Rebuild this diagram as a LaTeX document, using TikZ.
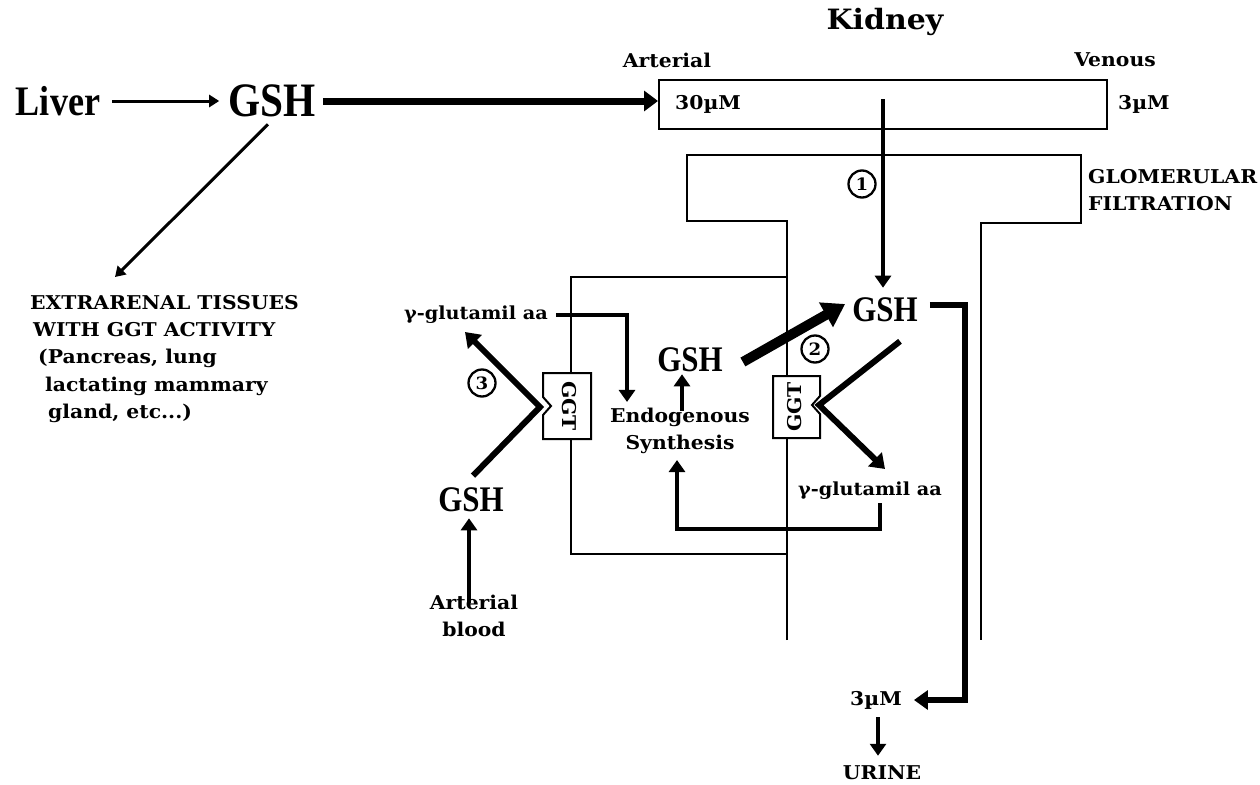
\documentclass[tikz,border=0pt]{standalone}
\usepackage{fontspec}
\setmainfont{DejaVu Serif}
\newfontfamily\gshfont{Liberation Serif}[FakeStretch=0.86]
\newfontfamily\labfont{DejaVu Serif}[FakeStretch=1.07]
\usetikzlibrary{arrows.meta}
\tikzset{
  thinline/.style={line width=2pt},
  flow/.style={line width=4pt, -{Triangle[length=12pt,width=16pt]}},
  heavyflow/.style={line width=6pt, -{Triangle[length=14pt,width=19pt]}},
  slimflow/.style={line width=3pt, -{Triangle[length=10pt,width=12pt]}},
  lab/.style={font=\labfont\bfseries\fontsize{19}{27}\selectfont, inner sep=0pt},
  smalllab/.style={font=\labfont\bfseries\fontsize{18}{20}\selectfont, inner sep=0pt},
  ggtlab/.style={font=\labfont\bfseries\fontsize{19}{20}\selectfont, inner sep=0pt},
  gsh/.style={font=\gshfont\bfseries\fontsize{36}{36}\selectfont, inner sep=0pt},
  num/.style={circle, draw, line width=2.3pt, minimum size=27pt, inner sep=0pt, font=\labfont\bfseries\fontsize{17}{17}\selectfont},
}
\begin{document}
\begin{tikzpicture}[x=1pt,y=-1pt]
\useasboundingbox[fill=white] (0,0) rectangle (1260,784);

% ---------- left part ----------
\node[gsh, font=\gshfont\bfseries\fontsize{42}{42}\selectfont] (liver) at (58,101) {Liver};
\node[gsh, font=\gshfont\bfseries\fontsize{48}{48}\selectfont] (gshtop) at (272,101) {GSH};
\draw[slimflow] ([xshift=12pt]liver.east) -- ([xshift=-9pt]gshtop.west);

\node[lab, anchor=west] (ext1) at (30,303) {EXTRARENAL TISSUES};
\node[lab, anchor=west] (ext2) at (33,330) {WITH GGT ACTIVITY};
\node[lab, anchor=west] (ext3) at (38,358) {(Pancreas, lung};
\node[lab, anchor=west] (ext4) at (45,386) {lactating mammary};
\node[lab, anchor=west] (ext5) at (48,413) {gland, etc...)};
\coordinate (extend) at (115,277);
\draw[slimflow] ([shift={(-4,7)}]gshtop.south) -- (extend);

% ---------- kidney vessel ----------
\node[lab, font=\labfont\bfseries\fontsize{28}{28}\selectfont] (kidney) at (885,22) {Kidney};
\node[lab] (art) at (667,60) {Arterial};
\node[lab] (ven) at (1115,60) {Venous};
\node[draw, thinline, minimum width=448pt, minimum height=49pt, inner sep=0pt, anchor=north west] (vessel) at (658,79) {};
\node[lab, anchor=west] (c30) at (675,104) {30µM};
\node[lab, anchor=west] (c3v) at (1118,104) {3µM};
\draw[line width=7pt, -{Triangle[length=14pt,width=20pt]}] ([xshift=7pt]gshtop.east) -- (gshtop.east -| vessel.west);

% ---------- glomerulus / tubule outline ----------
\draw[thinline] (787,640) -- (787,221) -- (687,221) -- (687,155) -- (1081,155) -- (1081,223) -- (981,223) -- (981,640);
\draw[thinline] (787,277) -- (571,277) -- (571,554) -- (787,554);
\node[lab, anchor=west, align=left] (glom) at (1088,190) {GLOMERULAR\\FILTRATION};

% GGT boxes
\draw[thinline, fill=white] (543,373) -- (591,373) -- (591,439) -- (543,439) -- (543,415) -- (551,406) -- (543,397) -- cycle;
\node[ggtlab, rotate=-90] (ggtL) at (569,406) {GGT};
\draw[thinline, fill=white] (773,376) -- (820,376) -- (820,396) -- (812,405) -- (820,414) -- (820,438) -- (773,438) -- cycle;
\node[ggtlab, rotate=90] (ggtR) at (795,407) {GGT};

% ---------- GSH nodes ----------
\node[gsh] (gshr) at (885,310) {GSH};
\node[gsh] (gshc) at (690,360) {GSH};
\node[gsh] (gshl) at (471,500) {GSH};

% glomerular filtration arrow
\coordinate (vtop) at (883,99);
\draw[flow] (vtop) -- ([yshift=10pt]vtop |- gshr.north);
\node[num, fill=white] (n1) at (862,184) {1};

% thick wedge arrow from central GSH to tubular GSH
\draw[line width=10pt, -{Triangle[length=22pt,width=27pt]}] ([shift={(20,2)}]gshc.east) -- ([shift={(-7,-6)}]gshr.west);
\node[num] (n2) at (815,349) {2};
\node[num] (n3) at (482,383) {3};

% chevrons through GGT
\coordinate (notchR) at (819,405);
\coordinate (notchL) at (540,407);
\coordinate (tipR) at (885,469);
\coordinate (tipL) at (465,332);
\node[smalllab] (glR) at (870,491) {γ-glutamil aa};
\node[smalllab] (glL) at (476,315) {γ-glutamil aa};
\draw[heavyflow] ([shift={(15,19)}]gshr.south) -- (notchR) -- (tipR);
\draw[heavyflow] ([shift={(2,-12)}]gshl.north) -- (notchL) -- (tipL);

% endogenous synthesis
\node[lab, align=center] (endo) at (680,431) {Endogenous\\Synthesis};
\draw[flow] ([xshift=8pt]glL.east) -| ([xshift=-53pt,yshift=6pt]endo.north);
\draw[flow] ([xshift=2pt,yshift=-3pt]endo.north) -- ([xshift=-8pt,yshift=-2pt]gshc.south);
\coordinate (fbstart) at (880,503);
\draw[flow] (fbstart) |- (677,529) -- ([xshift=-3pt,yshift=-6pt]endo.south);

% urine path
\node[lab] (c3u) at (876,700) {3µM};
\node[lab] (urine) at (882,773) {URINE};
\draw[heavyflow] ([xshift=12pt,yshift=5pt]gshr.east) -- ++(35,0) |- ([xshift=12pt]c3u.east);
\draw[flow] ([xshift=2pt,yshift=-8pt]c3u.south) -- ([xshift=-4pt,yshift=10pt]urine.north);

% arterial blood
\node[lab, align=center] (artb) at (474,616) {Arterial\\blood};
\draw[flow] ([xshift=-5pt,yshift=-8pt]artb.north) -- ([xshift=-2pt,yshift=-6pt]gshl.south);
\end{tikzpicture}
\end{document}
